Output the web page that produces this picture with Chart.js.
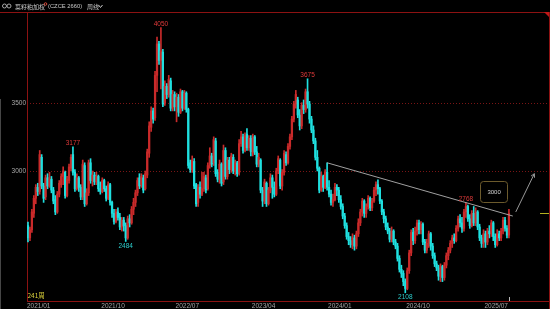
<!DOCTYPE html>
<html>
<head>
<meta charset="utf-8">
<script src="https://cdn.jsdelivr.net/npm/chart.js@4.4.1/dist/chart.umd.min.js"></script>
<style>
html, body { margin: 0; padding: 0; background: #000; overflow: hidden; }
canvas { display: block; }
</style>
</head>
<body>
<canvas id="kline" width="550" height="309"></canvas>
<script>
// Weekly candles, rapeseed meal weighted
const opens = [
  2600,2510,2570,2690,2800,2880,2850,3100,2890,2810,
  2950,2890,2940,2860,2790,2700,2830,2900,2960,2990,
  2820,2930,3020,3120,2990,2870,2950,2880,2810,3040,
  2760,2840,3060,2930,2970,2920,2960,2870,2850,2930,
  2870,2800,2900,2770,2690,2630,2700,2660,2590,2640,
  2600,2510,2650,2620,2720,2770,2840,2950,2900,2950,
  2870,2970,3130,3320,3440,3390,3700,3930,3810,3870,
  3500,3620,3560,3660,3460,3560,3470,3540,3430,3580,
  3460,3570,3450,3060,3010,3070,2900,2770,2880,2830,
  2870,2950,2870,3040,3110,3060,3220,2990,2940,3050,
  2920,3150,2960,3080,3010,3100,3000,3060,2990,3200,
  3250,3150,3270,3170,3240,3130,3250,3140,3050,3080,
  2860,2780,2910,2760,2860,2950,2880,2830,3000,3080,
  2890,2990,3120,3060,3180,3250,3380,3490,3520,3410,
  3330,3480,3450,3580,3490,3380,3300,3220,3100,3020,
  2860,2960,2880,2990,2880,2830,2770,2790,2880,2860,
  2790,2740,2670,2600,2520,2490,2460,2510,2450,2540,
  2620,2700,2780,2690,2740,2800,2730,2780,2860,2900,
  2870,2780,2700,2650,2590,2560,2500,2560,2480,2450,
  2360,2280,2250,2190,2140,2270,2400,2550,2490,2560,
  2620,2570,2610,2480,2420,2470,2540,2450,2380,2320,
  2290,2230,2300,2220,2310,2380,2420,2470,2510,2490,
  2580,2650,2620,2580,2700,2740,2650,2600,2690,2620,
  2700,2590,2510,2470,2540,2480,2560,2540,2620,2520,
  2460,2540,2510,2560,2640,2580,2530
];
const closes = [
  2510,2570,2700,2800,2880,2850,3120,2890,2800,2950,
  2890,2950,2860,2780,2700,2830,2910,2960,3000,2820,
  2940,3030,3100,2990,2870,2950,2880,2810,3050,2760,
  2840,3060,2930,2970,2920,2960,2870,2850,2930,2870,
  2800,2900,2770,2690,2630,2700,2660,2590,2640,2600,
  2510,2650,2620,2720,2770,2840,2930,2890,2960,2860,
  2980,3140,3330,3440,3380,3700,3930,3810,3880,3490,
  3620,3560,3670,3460,3560,3470,3540,3430,3580,3460,
  3570,3450,3040,3010,3080,2890,2760,2880,2830,2870,
  2960,2860,3040,3110,3050,3230,2980,2940,3050,2910,
  3150,2960,3080,3010,3110,3000,3060,2980,3200,3250,
  3150,3260,3170,3240,3140,3250,3140,3050,3100,2860,
  2780,2920,2760,2860,2950,2880,2830,3000,3090,2890,
  2990,3130,3060,3180,3250,3380,3490,3560,3410,3330,
  3480,3450,3580,3490,3380,3300,3220,3100,3020,2860,
  2960,2880,2990,2880,2830,2770,2790,2880,2860,2790,
  2740,2670,2600,2520,2490,2460,2510,2450,2540,2620,
  2700,2780,2690,2740,2800,2730,2780,2860,2900,2870,
  2780,2700,2650,2590,2560,2500,2560,2480,2450,2360,
  2280,2250,2190,2140,2270,2400,2550,2490,2560,2620,
  2570,2610,2480,2420,2470,2540,2450,2380,2320,2290,
  2230,2300,2220,2310,2380,2420,2470,2510,2490,2580,
  2650,2620,2580,2700,2740,2650,2600,2690,2620,2700,
  2590,2510,2470,2540,2480,2560,2540,2620,2520,2460,
  2540,2510,2560,2640,2580,2530,2690
];
const highs = [
  2625,2590,2720,2820,2900,2910,3150,3120,2910,2970,
  2980,2990,2960,2880,2820,2850,2930,2980,3030,3000,
  2960,3050,3120,3177,3010,2980,2960,2900,3080,3060,
  2870,3080,3090,3000,2990,2990,2970,2920,2950,2940,
  2890,2920,2910,2780,2720,2720,2730,2690,2660,2660,
  2620,2670,2680,2740,2800,2860,2950,2980,2980,2970,
  3000,3160,3360,3470,3460,3730,3980,3950,4050,3890,
  3660,3640,3700,3680,3590,3580,3570,3560,3600,3590,
  3590,3580,3460,3080,3110,3090,2910,2900,2920,2990,
  2990,2970,3060,3170,3130,3250,3240,3010,3080,3060,
  3190,3170,3100,3100,3130,3120,3080,3070,3230,3290,
  3270,3280,3310,3260,3260,3270,3260,3180,3130,3090,
  2880,2940,2920,2880,2980,2970,2920,3020,3110,3090,
  3010,3150,3140,3200,3270,3400,3510,3590,3540,3450,
  3500,3520,3600,3675,3510,3400,3330,3240,3150,3030,
  2990,2970,3010,3060,2930,2860,2830,2910,2900,2880,
  2820,2760,2690,2620,2550,2520,2540,2530,2560,2650,
  2720,2800,2790,2760,2820,2810,2800,2880,2920,2935,
  2880,2790,2720,2670,2620,2580,2590,2570,2500,2470,
  2380,2310,2270,2210,2290,2420,2570,2580,2590,2640,
  2640,2630,2620,2500,2500,2560,2550,2470,2400,2340,
  2310,2320,2310,2330,2400,2440,2490,2530,2540,2600,
  2670,2680,2660,2720,2768,2750,2680,2710,2740,2730,
  2710,2610,2530,2570,2560,2580,2600,2640,2630,2540,
  2570,2560,2580,2660,2660,2600,2720
];
const lows = [
  2480,2490,2550,2660,2760,2820,2830,2870,2770,2790,
  2870,2880,2840,2760,2680,2690,2810,2880,2900,2800,
  2810,2910,3000,2970,2850,2860,2850,2790,2790,2740,
  2750,2820,2910,2890,2900,2900,2850,2830,2840,2850,
  2780,2790,2750,2660,2610,2620,2640,2570,2560,2560,
  2484,2500,2590,2610,2680,2740,2820,2870,2880,2840,
  2860,2950,3100,3290,3350,3370,3580,3780,3600,3470,
  3480,3530,3540,3440,3440,3440,3360,3400,3420,3440,
  3450,3430,3020,2990,2990,2870,2740,2740,2800,2820,
  2850,2840,2860,3020,3030,3040,2960,2920,2910,2890,
  2900,2940,2940,2980,2990,2980,2970,2960,2970,3180,
  3130,3140,3150,3150,3110,3110,3120,3030,3030,2840,
  2740,2760,2740,2750,2840,2800,2810,2820,2980,2870,
  2860,2970,3040,3050,3160,3230,3360,3460,3390,3300,
  3310,3420,3430,3460,3350,3280,3200,3080,3000,2840,
  2850,2850,2870,2860,2810,2750,2740,2780,2820,2770,
  2720,2650,2580,2500,2460,2440,2430,2420,2430,2520,
  2600,2670,2660,2660,2720,2710,2710,2770,2820,2830,
  2760,2680,2620,2570,2540,2480,2480,2460,2430,2340,
  2260,2220,2160,2108,2130,2250,2380,2460,2470,2530,
  2540,2540,2460,2400,2400,2440,2420,2360,2300,2270,
  2200,2190,2190,2200,2290,2350,2400,2440,2470,2480,
  2560,2590,2550,2560,2660,2630,2580,2590,2600,2600,
  2570,2490,2440,2440,2440,2460,2510,2520,2490,2440,
  2450,2490,2490,2540,2560,2510,2510
];

// x axis: weekly slots (candles + empty space on the right)
const slotCount = 267;
const tickAt = [0, 38, 76, 115, 154, 194, 234];
const tickLabels = ['2021/01', '2021/10', '2022/07', '2023/04', '2024/01', '2024/10', '2025/07'];
const yTicks = [3000, 3500];

// marked highs / lows
const markIdx = [23, 50, 68, 143, 193, 224];
const markVal = [3177, 2484, 4050, 3675, 2108, 2768];
const markHigh = [true, false, true, true, false, true];

// drawn objects
const trendIdx = [153, 248];
const trendVal = [3060, 2670];
const arrowIdx = [249.5, 259];
const arrowVal = [2700, 2980];
const targetIdx = 238.4;
const targetVal = 2843;
const targetText = '3000';

const UP = '#c92a2a';
const DOWN = '#1fe0e0';
const NUM_FONT = '"Liberation Sans", Arial, sans-serif';
const CJK_FONT = '"Noto Sans CJK SC", sans-serif';

const candleColor = ctx => closes[ctx.dataIndex] >= opens[ctx.dataIndex] ? UP : DOWN;

const overlay = {
  id: 'overlay',
  beforeDraw(chart) {
    const ctx = chart.ctx;
    ctx.save();
    ctx.fillStyle = '#000';
    ctx.fillRect(0, 0, chart.width, chart.height);
    ctx.restore();
  },
  beforeDatasetsDraw(chart) {
    const { ctx, chartArea: a, scales: { y } } = chart;
    ctx.save();
    ctx.lineWidth = 1;
    // dotted price grid
    ctx.strokeStyle = '#7a1515';
    ctx.setLineDash([1, 2]);
    yTicks.forEach(v => {
      const py = Math.round(y.getPixelForValue(v)) + 0.5;
      ctx.beginPath();
      ctx.moveTo(a.left, py);
      ctx.lineTo(a.right, py);
      ctx.stroke();
    });
    ctx.setLineDash([]);
    // frame
    ctx.strokeStyle = '#8c1212';
    ctx.beginPath();
    ctx.moveTo(0, a.top + 0.5); ctx.lineTo(chart.width, a.top + 0.5);
    ctx.moveTo(a.left + 0.5, a.top); ctx.lineTo(a.left + 0.5, a.bottom);
    ctx.moveTo(a.left, a.bottom + 0.5); ctx.lineTo(a.right, a.bottom + 0.5);
    ctx.moveTo(a.right + 0.5, a.top); ctx.lineTo(a.right + 0.5, chart.height);
    ctx.stroke();
    // top right corner mark
    ctx.fillStyle = '#c01818';
    ctx.beginPath();
    ctx.moveTo(a.right - 5, a.top); ctx.lineTo(a.right, a.top); ctx.lineTo(a.right, a.top + 5);
    ctx.closePath();
    ctx.fill();
    // left edge line
    ctx.strokeStyle = '#464646';
    ctx.beginPath();
    ctx.moveTo(0.5, 99); ctx.lineTo(0.5, chart.height);
    ctx.stroke();

    // axis labels
    ctx.font = '6.5px ' + NUM_FONT;
    ctx.fillStyle = '#a8a8a8';
    ctx.textAlign = 'right';
    ctx.textBaseline = 'middle';
    yTicks.forEach(v => {
      ctx.fillText(String(v), a.left - 1, Math.round(y.getPixelForValue(v)) + 0.5);
    });
    const x = chart.scales.x;
    ctx.textAlign = 'left';
    ctx.fillStyle = '#a4a4a4';
    tickAt.forEach((idx, k) => {
      ctx.fillText(tickLabels[k], x.getPixelForValue(idx) - 1, a.bottom + 5);
    });
    ctx.restore();
  },
  afterDatasetsDraw(chart) {
    const { ctx, chartArea: a, scales: { x, y } } = chart;
    ctx.save();

    // trend line
    ctx.strokeStyle = '#a0a0a0';
    ctx.lineWidth = 1;
    ctx.beginPath();
    ctx.moveTo(x.getPixelForValue(trendIdx[0]), y.getPixelForValue(trendVal[0]));
    ctx.lineTo(x.getPixelForValue(trendIdx[1]), y.getPixelForValue(trendVal[1]));
    ctx.stroke();

    // arrow
    const ax0 = x.getPixelForValue(arrowIdx[0]), ay0 = y.getPixelForValue(arrowVal[0]);
    const ax1 = x.getPixelForValue(arrowIdx[1]), ay1 = y.getPixelForValue(arrowVal[1]);
    const ang = Math.atan2(ay1 - ay0, ax1 - ax0);
    ctx.strokeStyle = '#9a9a9a';
    ctx.beginPath();
    ctx.moveTo(ax0, ay0); ctx.lineTo(ax1, ay1);
    ctx.moveTo(ax1, ay1); ctx.lineTo(ax1 - 4 * Math.cos(ang - 0.5), ay1 - 4 * Math.sin(ang - 0.5));
    ctx.moveTo(ax1, ay1); ctx.lineTo(ax1 - 4 * Math.cos(ang + 0.5), ay1 - 4 * Math.sin(ang + 0.5));
    ctx.stroke();

    // target box
    const bx = x.getPixelForValue(targetIdx), by = y.getPixelForValue(targetVal);
    ctx.fillStyle = '#000';
    ctx.strokeStyle = '#6c5a2c';
    ctx.beginPath();
    ctx.roundRect(Math.round(bx - 14) + 0.5, Math.round(by - 11) + 0.5, 27, 21, 3);
    ctx.fill();
    ctx.stroke();
    ctx.fillStyle = '#d4d4d4';
    ctx.font = '6px ' + NUM_FONT;
    ctx.textAlign = 'center';
    ctx.textBaseline = 'middle';
    ctx.fillText(targetText, bx, by);

    // high / low marks
    ctx.font = '6.5px ' + NUM_FONT;
    ctx.textBaseline = 'alphabetic';
    markIdx.forEach((idx, k) => {
      const px = x.getPixelForValue(idx);
      const py = y.getPixelForValue(markVal[k]);
      if (markHigh[k]) {
        ctx.fillStyle = '#e03a3a';
        ctx.fillText(String(markVal[k]), px, py - 1.5);
      } else {
        ctx.fillStyle = '#2ccccc';
        ctx.fillText(String(markVal[k]), px, py + 6.5);
      }
    });

    // last price marker on the right
    const last = closes.length - 1;
    const lp = Math.round(y.getPixelForValue(closes[last])) + 0.5;
    ctx.strokeStyle = '#b4b020';
    ctx.beginPath();
    ctx.moveTo(540, lp); ctx.lineTo(a.right, lp);
    ctx.stroke();
    const lx = Math.round(x.getPixelForValue(last)) + 0.5;
    ctx.strokeStyle = '#b8b8b8';
    ctx.beginPath();
    ctx.moveTo(lx, a.bottom - 4); ctx.lineTo(lx, a.bottom);
    ctx.stroke();

    // bar count
    ctx.textAlign = 'left';
    ctx.textBaseline = 'middle';
    ctx.fillStyle = '#d8cf3a';
    ctx.font = '6.5px ' + CJK_FONT;
    ctx.fillText('241周', a.left + 0.5, a.bottom - 5);

    // header
    ctx.strokeStyle = '#a8a8a8';
    ctx.beginPath(); ctx.arc(4.5, 6, 2, 0, Math.PI * 2); ctx.stroke();
    ctx.beginPath(); ctx.arc(9, 6, 2, 0, Math.PI * 2); ctx.stroke();
    ctx.fillStyle = '#c8c8c8';
    ctx.font = '6px ' + CJK_FONT;
    ctx.fillText('菜籽粕加权', 15, 6.5);
    ctx.strokeStyle = '#d04a3a';
    ctx.beginPath(); ctx.arc(45.5, 4, 1.3, 0, Math.PI * 2); ctx.stroke();
    ctx.font = '5.8px ' + NUM_FONT;
    ctx.fillText('(CZCE 2660)', 48, 6.5);
    ctx.font = '6px ' + CJK_FONT;
    ctx.fillText('周线', 87, 6.5);
    ctx.strokeStyle = '#c8c8c8';
    ctx.beginPath();
    ctx.moveTo(98.5, 5); ctx.lineTo(100.5, 7.5); ctx.lineTo(102.5, 5);
    ctx.stroke();

    ctx.restore();
  }
};

new Chart(document.getElementById('kline'), {
  type: 'bar',
  data: {
    labels: Array.from({ length: slotCount }, (_, i) => i),
    datasets: [
      {
        label: 'wick',
        data: lows.map((l, i) => [l, highs[i]]),
        backgroundColor: candleColor,
        barThickness: 1,
        grouped: false,
        order: 2
      },
      {
        label: 'body',
        data: opens.map((o, i) => [Math.min(o, closes[i]), Math.max(o, closes[i])]),
        backgroundColor: candleColor,
        barThickness: 1.6,
        grouped: false,
        order: 1
      }
    ]
  },
  options: {
    responsive: false,
    animation: false,
    devicePixelRatio: 1,
    layout: { padding: { top: 12, right: 1, left: 0, bottom: 0 } },
    plugins: { legend: { display: false }, tooltip: { enabled: false } },
    scales: {
      x: {
        grid: { display: false },
        border: { display: false },
        ticks: { display: false },
        afterFit: s => { s.height = 8; }
      },
      y: {
        min: 2048,
        max: 4164,
        grid: { display: false },
        border: { display: false },
        ticks: { display: false },
        afterFit: s => { s.width = 27; }
      }
    }
  },
  plugins: [overlay]
});
</script>
</body>
</html>
